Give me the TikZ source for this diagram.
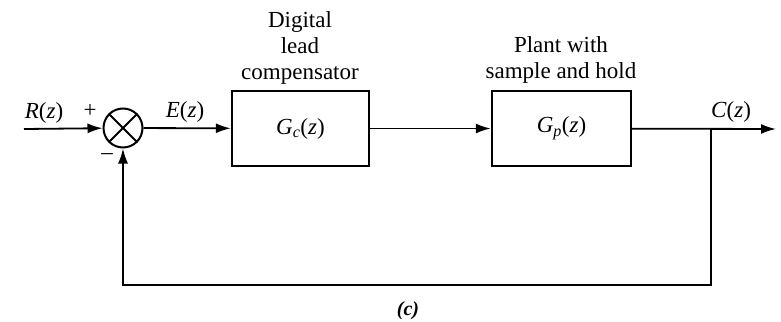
\documentclass[tikz,border=0pt]{standalone}
\usepackage{fontspec}
\setmainfont{Liberation Serif}
\usetikzlibrary{arrows.meta}
\usetikzlibrary{positioning}
\newcommand{\iv}[1]{\textit{#1}}

\begin{document}
\begin{tikzpicture}
    [
    x=1pt, y=-1pt,
    font=\fontsize{23}{26}\selectfont,
    >={Latex[length=15pt,width=10pt]},
    block/.style={rectangle,draw,line width=2.4pt,minimum width=137pt,minimum height=75pt,inner sep=0pt},
    sumpt/.style={circle,draw,line width=2pt,minimum size=39pt,inner sep=0pt},
    wire/.style={line width=1.8pt},
    txt/.style={inner sep=0pt}
    ]
    \useasboundingbox (0,0) rectangle (781,321);
    \coordinate (in) at (24,129);
    \node (sum) at (123,128) [sumpt] {};
    \node (gc) at (300.5,128.5) [block] {\iv{G}\textsubscript{\iv{c}}(\iv{z})};
    \node (gp) at (561.5,128.5) [block, minimum width=139pt] {\iv{G}\textsubscript{\iv{p}}(\iv{z})};
    \coordinate (br) at (711,129);
    \coordinate (out) at (776,129);
    \coordinate (br2) at (711,285);
    \coordinate (sum2) at (123,285);

    \draw [wire] (sum.north west) to (sum.south east);
    \draw [wire] (sum.north east) to (sum.south west);

    \draw [wire,->] (in) to (sum);
    \draw [wire,->] (sum) to (gc);
    \draw [wire,->] (gc) to (gp);
    \draw [wire,->] (gp) to (out);
    \draw [wire,->] (br) -- (br2) -- (sum2) -- (sum);

    \node (rz) at (44,113) [txt] {\iv{R}(\iv{z})};
    \node (plus) at (90,111) [txt] {+};
    \node (minus) at (107,157) [txt] {–};
    \node (ez) at (185,112) [txt] {\iv{E}(\iv{z})};
    \node (cz) at (731,112) [txt] {\iv{C}(\iv{z})};
    \node (gclbl) at (300,48) [txt, align=center] {Digital\\lead\\compensator};
    \node (gplbl) at (561,60) [txt, align=center] {Plant with\\sample and hold};
    \node (cap) at (408,311) [txt, font=\fontsize{20}{24}\selectfont] {\textbf{\textit{(c)}}};
  \end{tikzpicture}
\end{document}
